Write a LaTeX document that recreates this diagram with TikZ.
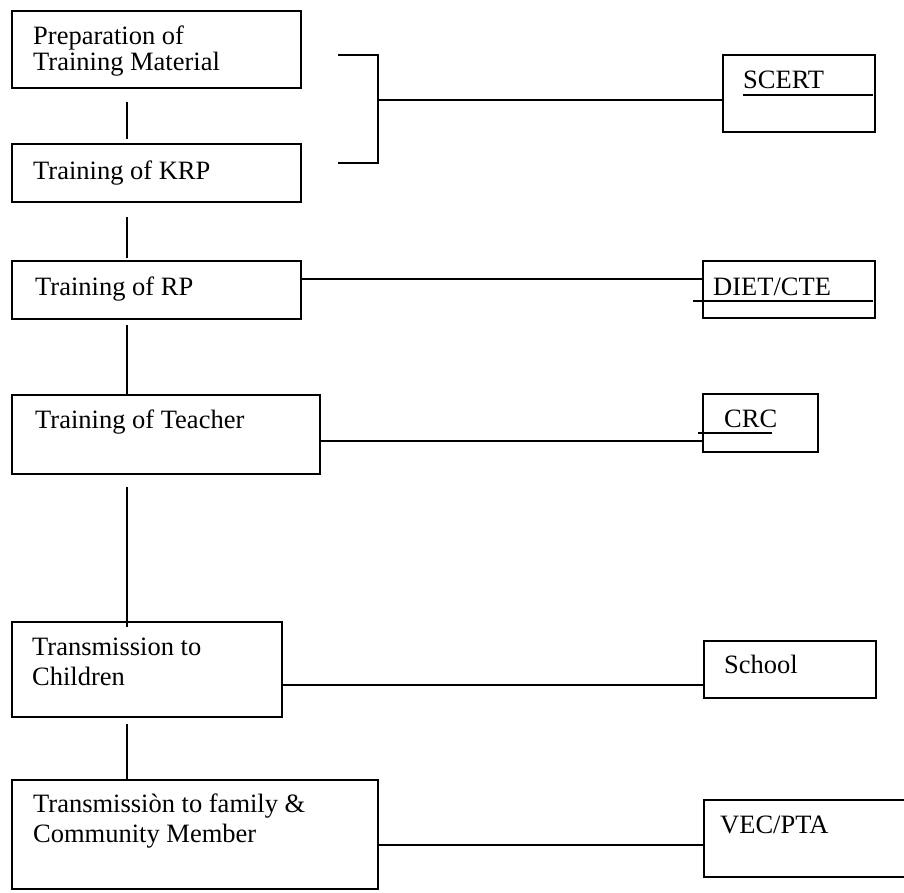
\documentclass[tikz,border=0pt]{standalone}
\usepackage{fontspec}
\setmainfont{Liberation Serif}
\begin{document}
\begin{tikzpicture}[x=1pt,y=-1pt,
  box/.style={draw,line width=1.2pt,inner sep=0pt,outer sep=0pt,anchor=north west},
  txt/.style={anchor=base west,inner sep=0pt,font=\fontsize{26.5}{30}\selectfont},
  link/.style={line width=1.2pt},
  uline/.style={line width=2pt}]
\useasboundingbox (0,0) rectangle (904,892);

% left column: training stages
\node[box,minimum width=289pt,minimum height=77pt]  (b1) at (12,11)  {};
\node[box,minimum width=289pt,minimum height=58pt]  (b2) at (12,144) {};
\node[box,minimum width=289pt,minimum height=58pt]  (b3) at (12,261) {};
\node[box,minimum width=308pt,minimum height=79pt]  (b4) at (12,395) {};
\node[box,minimum width=270pt,minimum height=95pt]  (b5) at (12,622) {};
\node[box,minimum width=366pt,minimum height=109pt] (b6) at (12,780) {};

% right column: agencies
\node[box,minimum width=152pt,minimum height=77pt] (r1) at (723,55)  {};
\node[box,minimum width=172pt,minimum height=57pt] (r2) at (703,261) {};
\node[box,minimum width=115pt,minimum height=58pt] (r3) at (703,394) {};
\node[box,minimum width=172pt,minimum height=57pt] (r4) at (704,641) {};
\node[box,minimum width=210pt,minimum height=77pt] (r5) at (704,800) {};

% labels
\node[txt] (t1a) at (33,44)   {Preparation of};
\node[txt] (t1b) at (33,70.7) {Training Material};
\node[txt] (t2)  at (33,179)  {Training of KRP};
\node[txt] (t3)  at (35,295)  {Training of RP};
\node[txt] (t4)  at (35,428)  {Training of Teacher};
\node[txt] (t5a) at (32,655)  {Transmission to};
\node[txt] (t5b) at (32,685)  {Children};
\node[txt] (t6a) at (33,812)  {Transmissiòn to family \&};
\node[txt] (t6b) at (33,842)  {Community Member};

\node[txt] (s1) at (743,88)  {SCERT};
\node[txt] (s2) at (713,295) {DIET/CTE};
\node[txt] (s3) at (724,427) {CRC};
\node[txt] (s4) at (724,673) {School};
\node[txt] (s5) at (720,833) {VEC/PTA};

% underlines under the agency names
\draw[uline] (743,95)  -- (873,95);
\draw[uline] (693,301) -- (873,301);
\draw[uline] (698,433) -- (772,433);

% vertical links between stages
\draw[link] ([xshift=115pt,yshift=-14pt]b1.south west) -- ([xshift=115pt,yshift=5pt]b2.north west);
\draw[link] ([xshift=115pt,yshift=-15pt]b2.south west) -- ([xshift=115pt,yshift=3pt]b3.north west);
\draw[link] ([xshift=115pt,yshift=-6pt]b3.south west)  -- ([xshift=115pt]b4.north west);
\draw[link] ([xshift=115pt,yshift=-13pt]b4.south west) -- ([xshift=115pt,yshift=-5pt]b5.north west);
\draw[link] ([xshift=115pt,yshift=-7pt]b5.south west)  -- ([xshift=115pt]b6.north west);

% bracket grouping the first two stages
\coordinate (bt) at (338,55);
\coordinate (bb) at (338,163);
\coordinate (bm) at (378,100);
\draw[link] (bt) -| (bm) |- (bb);
\draw[link] (bm) -- (bm -| r1.west);

% horizontal links to agencies
\coordinate (c2) at ([yshift=11pt]b3.east);
\draw[link] (c2) -- (c2 -| r2.west);
\coordinate (c3) at ([yshift=-6.5pt]b4.east);
\draw[link] (c3) -- (c3 -| r3.west);
\coordinate (c4) at ([yshift=-15.5pt]b5.east);
\draw[link] (c4) -- (c4 -| r4.west);
\coordinate (c5) at ([yshift=-10.5pt]b6.east);
\draw[link] (c5) -- (c5 -| r5.west);
\end{tikzpicture}
\end{document}
